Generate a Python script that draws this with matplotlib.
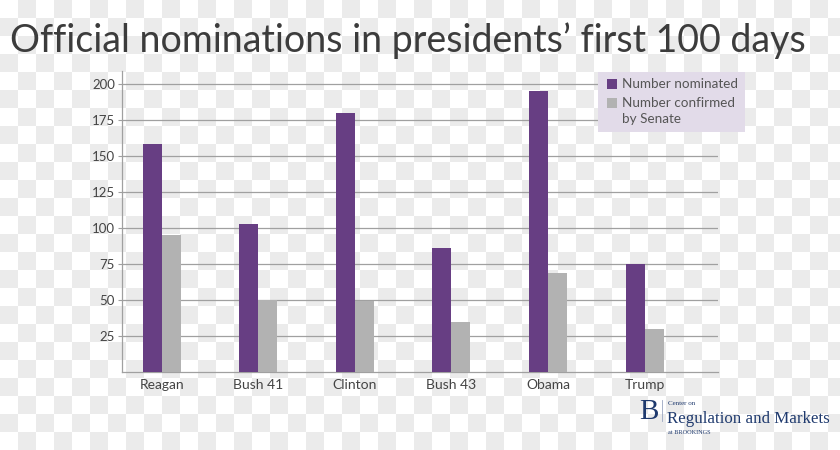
import numpy as np
import matplotlib
matplotlib.use("Agg")
import matplotlib.pyplot as plt
from matplotlib.patches import Rectangle

# data
presidents = ["Reagan", "Bush 41", "Clinton", "Bush 43", "Obama", "Trump"]
nominated = [158, 103, 180, 86, 195, 75]
confirmed = [95, 50, 49, 35, 69, 30]
y_ticks = [25, 50, 75, 100, 125, 150, 175, 200]
legend_labels = ["Number nominated", "Number confirmed\nby Senate"]

purple = "#673e83"
grey = "#b2b2b2"
text_col = "#444444"
navy = "#1f3a6e"

plt.rcParams["font.family"] = ["Lato", "DejaVu Sans"]

fig = plt.figure(figsize=(8.4, 4.5), dpi=100)

# checkered backdrop
bg = fig.add_axes([0, 0, 1, 1], zorder=-10)
sq = 18
nx, ny = 840 // sq + 1, 450 // sq + 1
board = (np.add.outer(np.arange(ny), np.arange(nx)) % 2).astype(float)
bg.imshow(board, cmap=matplotlib.colors.ListedColormap(["#ffffff", "#ebebeb"]),
          extent=[0, nx * sq, ny * sq, 0], interpolation="nearest", aspect="auto")
bg.set_xlim(0, 840)
bg.set_ylim(450, 0)
bg.axis("off")

ax = fig.add_axes([122 / 840, 1 - 372 / 450, (718 - 122) / 840, (372 - 71) / 450])
ax.set_facecolor("none")

x = np.arange(len(presidents))
w = 0.197
ax.bar(x - w / 2, nominated, width=w, color=purple, zorder=3)
ax.bar(x + w / 2, confirmed, width=w, color=grey, zorder=3)

ax.set_xlim(-0.41, 5.76)
ax.set_ylim(0, 209)
ax.set_yticks(y_ticks)
ax.set_xticks(x)
ax.set_xticklabels(presidents)
ax.grid(axis="y", color="#a0a0a0", linewidth=0.9, zorder=0)
ax.tick_params(axis="y", length=3, color="#a0a0a0", labelsize=9.5, labelcolor=text_col, pad=2)
ax.tick_params(axis="x", length=0, labelsize=10, labelcolor=text_col, pad=5)
for s in ["top", "right"]:
    ax.spines[s].set_visible(False)
for s in ["left", "bottom"]:
    ax.spines[s].set_color("#a0a0a0")
    ax.spines[s].set_linewidth(0.9)

# legend box drawn by hand (patch sits beside first line of the 2-line label)
fx = lambda px: px / 840
fy = lambda py: 1 - py / 450
fig.add_artist(Rectangle((fx(598), fy(132)), fx(745) - fx(598), fy(72) - fy(132),
                         transform=fig.transFigure, facecolor="#e2dbe9", edgecolor="none"))
for i, (lab, col) in enumerate(zip(legend_labels, [purple, grey])):
    top = 79 + i * 19
    fig.add_artist(Rectangle((fx(607), fy(top + 10)), fx(617) - fx(607), fy(top) - fy(top + 10),
                             transform=fig.transFigure, facecolor=col, edgecolor="none"))
    fig.text(fx(622), fy(top - 1), lab, fontsize=9.7, color="#555555",
             va="top", ha="left", linespacing=1.4)

fig.text(10 / 840, 1 - 52 / 450, "Official nominations in presidents\u2019 first 100 days",
         fontsize=27, color="#3c3c3c", va="baseline", ha="left")

# Brookings logo
fig.text(639 / 840, 1 - 419 / 450, "B", family="Liberation Serif", fontsize=21,
         color=navy, va="baseline", ha="left")
fig.add_artist(plt.Line2D([662 / 840, 662 / 840], [1 - 400 / 450, 1 - 421 / 450],
                          color="#9aa6c0", linewidth=0.6))
fig.text(668 / 840, 1 - 405 / 450, "Center on", family="Liberation Serif", fontsize=5,
         color=navy, va="baseline", ha="left")
fig.text(667 / 840, 1 - 423 / 450, "Regulation and Markets", family="Liberation Serif",
         fontsize=12.2, color=navy, va="baseline", ha="left")
fig.text(668 / 840, 1 - 434 / 450, "at BROOKINGS", family="Liberation Serif", fontsize=4.5,
         color=navy, va="baseline", ha="left")

fig.savefig("out.png", dpi=100)
